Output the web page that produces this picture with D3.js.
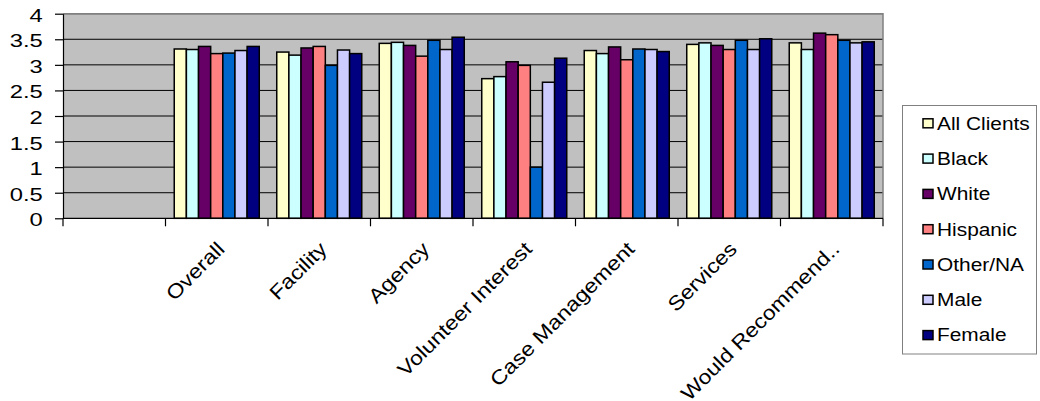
<!DOCTYPE html>
<html>
<head>
<meta charset="utf-8">
<script src="https://cdn.jsdelivr.net/npm/d3@7"></script>
<style>
  html, body { margin: 0; padding: 0; background: #fff; }
  svg { display: block; font-family: "Liberation Sans", Arial, sans-serif; }
</style>
</head>
<body>
<svg id="chart" width="1040" height="401"></svg>
<script>
// Survey categories (the first slot on the axis is left empty)
const categories = ["Overall", "Facility", "Agency", "Volunteer Interest", "Case Management", "Services", "Would Recommend.."];
const seriesNames = ["All Clients", "Black", "White", "Hispanic", "Other/NA", "Male", "Female"];

// Mean ratings per group, one value per category
const allClients = [3.31, 3.25, 3.42, 2.73, 3.28, 3.40, 3.43];
const black      = [3.30, 3.19, 3.44, 2.77, 3.22, 3.43, 3.30];
const white      = [3.36, 3.33, 3.38, 3.06, 3.35, 3.38, 3.62];
const hispanic   = [3.22, 3.36, 3.17, 2.99, 3.10, 3.30, 3.59];
const otherNA    = [3.23, 2.99, 3.48, 1.00, 3.31, 3.48, 3.48];
const male       = [3.28, 3.29, 3.30, 2.66, 3.30, 3.30, 3.43];
const female     = [3.36, 3.22, 3.54, 3.13, 3.26, 3.51, 3.45];

const yTicks = [0, 0.5, 1, 1.5, 2, 2.5, 3, 3.5, 4];
const colors = ["#FFFFCC", "#CCFFFF", "#660066", "#FF8080", "#0066CC", "#CCCCFF", "#000080"];

const seriesValues = [allClients, black, white, hispanic, otherNA, male, female];

const svg = d3.select("#chart");
const plot = { left: 63, right: 883, top: 13.7, bottom: 218.3 };

const slots = [""].concat(categories);
const x0 = d3.scaleBand().domain(slots).range([plot.left, plot.right]).padding(0);
const x1 = d3.scaleBand().domain(seriesNames).range([0, x0.bandwidth()])
  .paddingInner(0).paddingOuter(0.72);
const y = d3.scaleLinear().domain([0, 4]).range([plot.bottom, plot.top]);

// Plot area background
svg.append("rect")
  .attr("x", plot.left).attr("y", plot.top)
  .attr("width", plot.right - plot.left).attr("height", plot.bottom - plot.top)
  .attr("fill", "#C0C0C0");

// Horizontal gridlines
svg.append("g").selectAll("line").data(yTicks.filter(d => d > 0)).join("line")
  .attr("x1", plot.left).attr("x2", plot.right)
  .attr("y1", d => y(d)).attr("y2", d => y(d))
  .attr("stroke", "#000").attr("stroke-width", 1);

// Plot area frame (top and right edges)
svg.append("path")
  .attr("d", `M${plot.left},${plot.top}H${plot.right}V${plot.bottom}`)
  .attr("fill", "none").attr("stroke", "#808080").attr("stroke-width", 1.5);

// Bars
const rows = [];
categories.forEach((c, i) => {
  seriesNames.forEach((s, j) => rows.push({ cat: c, series: s, value: seriesValues[j][i], color: colors[j] }));
});
svg.append("g").selectAll("rect").data(rows).join("rect")
  .attr("x", d => x0(d.cat) + x1(d.series))
  .attr("y", d => y(d.value))
  .attr("width", x1.bandwidth())
  .attr("height", d => y(0) - y(d.value))
  .attr("fill", d => d.color)
  .attr("stroke", "#000").attr("stroke-width", 1.5);

// Y axis
const yAxis = svg.append("g")
  .attr("transform", `translate(${plot.left},0)`)
  .call(d3.axisLeft(y).tickValues(yTicks).tickSize(8).tickSizeOuter(0).tickFormat(d3.format("")));
yAxis.select(".domain").attr("stroke", "#000").attr("stroke-width", 1.2);
yAxis.selectAll(".tick line").attr("stroke", "#000").attr("stroke-width", 1.2);
yAxis.selectAll(".tick text")
  .attr("x", 0).attr("dy", null).attr("y", 7.5)
  .attr("transform", "translate(-20.3,0) scale(1.25,1)")
  .attr("text-anchor", "end")
  .attr("font-size", 19).attr("fill", "#000")
  .attr("font-family", "Liberation Sans, Arial, sans-serif");

// X axis line and ticks at category boundaries
svg.append("line")
  .attr("x1", plot.left).attr("x2", plot.right)
  .attr("y1", plot.bottom).attr("y2", plot.bottom)
  .attr("stroke", "#000").attr("stroke-width", 1.2);
const bounds = slots.map(s => x0(s)).concat([plot.right]);
svg.append("g").selectAll("line").data(bounds).join("line")
  .attr("x1", d => d).attr("x2", d => d)
  .attr("y1", plot.bottom).attr("y2", plot.bottom + 8)
  .attr("stroke", "#000").attr("stroke-width", 1.2);

// Rotated category labels
svg.append("g").selectAll("text").data(categories).join("text")
  .attr("transform", d => `translate(${x0(d) + x0.bandwidth() / 2 + 9},${plot.bottom + 32}) rotate(-45) scale(1.15,1)`)
  .attr("text-anchor", "end")
  .attr("font-size", 20).attr("fill", "#000")
  .text(d => d);

// Legend
const legend = svg.append("g");
legend.append("rect")
  .attr("x", 902.5).attr("y", 105.5).attr("width", 134).attr("height", 248.5)
  .attr("fill", "#fff").attr("stroke", "#808080").attr("stroke-width", 1);
const items = legend.selectAll("g.item").data(seriesNames).join("g")
  .attr("class", "item")
  .attr("transform", (d, i) => `translate(0,${123.3 + i * 35.3})`);
items.append("rect")
  .attr("x", 923).attr("y", -4.5).attr("width", 10).attr("height", 9)
  .attr("fill", (d, i) => colors[i]).attr("stroke", "#000").attr("stroke-width", 1.5);
items.append("text")
  .attr("transform", "translate(937,6.3) scale(1.18,1)")
  .attr("font-size", 17.7).attr("fill", "#000")
  .text(d => d);
</script>
</body>
</html>
